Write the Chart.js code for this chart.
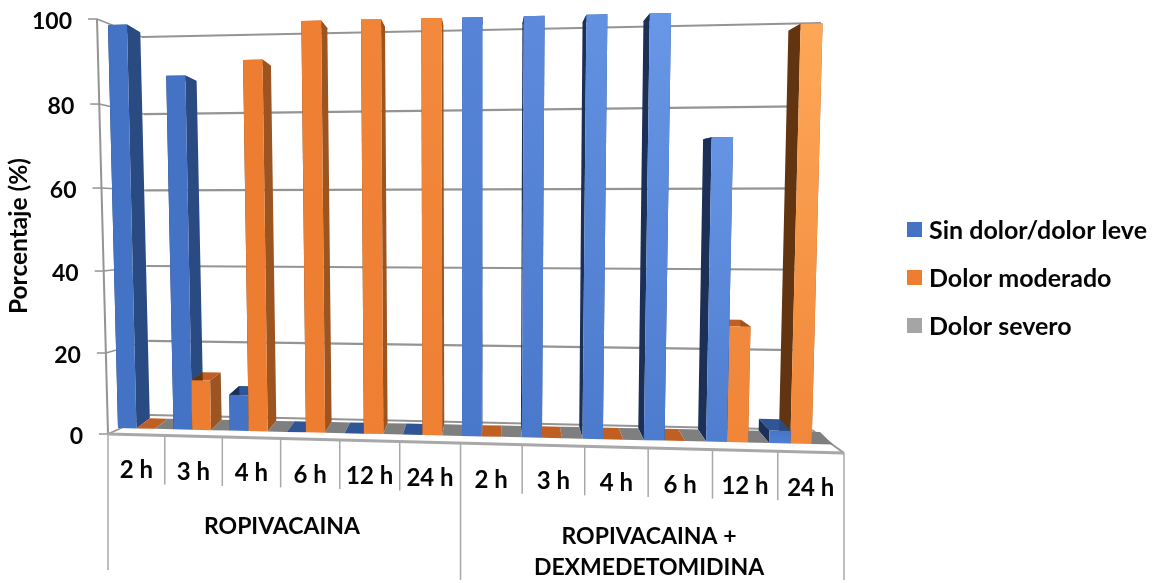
<!DOCTYPE html>
<html>
<head>
<meta charset="utf-8">
<title>Porcentaje de dolor</title>
<script src="https://cdn.jsdelivr.net/npm/chart.js@4"></script>
<style>
    html, body { margin: 0; padding: 0; background: #fff; }
    canvas { display: block; }
</style>
</head>
<body>
<canvas id="chart" width="1155" height="583"></canvas>
<script>
const categories = ["2 h", "3 h", "4 h", "6 h", "12 h", "24 h", "2 h", "3 h", "4 h", "6 h", "12 h", "24 h"];
const sinDolor = [100, 87.5, 9, 0, 0, 0, 100, 100, 100, 100, 71.5, 3];
const dolorModerado = [0, 12.5, 91, 100, 100, 100, 0, 0, 0, 0, 27.5, 97];
const dolorSevero = [0, 0, 0, 0, 0, 0, 0, 0, 0, 0, 0, 0];
const yTicks = [0, 20, 40, 60, 80, 100];

const FONT = "Lato, sans-serif";
const INK = "#050505";
const GRID = "#949494";

// square -> quad homography, u left to right, v bottom to top
function quadMap(tl, tr, br, bl) {
    const dx1 = br[0] - tr[0], dx2 = tl[0] - tr[0], sx = bl[0] - br[0] + tr[0] - tl[0];
    const dy1 = br[1] - tr[1], dy2 = tl[1] - tr[1], sy = bl[1] - br[1] + tr[1] - tl[1];
    const det = dx1 * dy2 - dx2 * dy1;
    const g = (sx * dy2 - dx2 * sy) / det;
    const h = (dx1 * sy - sx * dy1) / det;
    const a = br[0] - bl[0] + g * br[0], b = tl[0] - bl[0] + h * tl[0];
    const d = br[1] - bl[1] + g * br[1], e = tl[1] - bl[1] + h * tl[1];
    return (u, v) => {
        const w = g * u + h * v + 1;
        return [(a * u + b * v + bl[0]) / w, (d * u + e * v + bl[1]) / w];
    };
}

// the four planes of the fake 3D box
const axisPlane = quadMap([97, 19], [857, 1], [844, 453], [108, 434]);
const barFront = quadMap([108, 25], [845, 9.3], [833, 444.5], [118, 428]);
const barBack = quadMap([122, 33], [831, 17], [820, 432], [132, 418]);
const wall = quadMap([142, 37], [821, 23], [812, 430], [150, 415]);

const faceColors = [
    { base: "#4472C4", light: "#7CA9FA", top: "#2F5597", sideL: "#1B2F57", sideR: "#2A4A82" },
    { base: "#ED7D31", light: "#FFAA5A", top: "#C05F22", sideL: "#623410", sideR: "#9C5420" },
    { base: "#A5A5A5", light: "#A5A5A5", top: "#7F7F7F", sideL: "#7F7F7F", sideR: "#7F7F7F" },
];

function mix(c1, c2, t) {
    const p = (c, i) => parseInt(c.substr(1 + i * 2, 2), 16);
    const out = [0, 1, 2].map((i) => Math.round(p(c1, i) + (p(c2, i) - p(c1, i)) * t));
    return `rgb(${out.join(",")})`;
}

function poly(ctx, pts, fill) {
    ctx.beginPath();
    pts.forEach((p, i) => (i ? ctx.lineTo(p[0], p[1]) : ctx.moveTo(p[0], p[1])));
    ctx.closePath();
    ctx.fillStyle = fill;
    ctx.fill();
}

function line(ctx, a, b, color, width) {
    ctx.beginPath();
    ctx.moveTo(a[0], a[1]);
    ctx.lineTo(b[0], b[1]);
    ctx.strokeStyle = color;
    ctx.lineWidth = width;
    ctx.stroke();
}

function drawBox(ctx, chart) {
    const yScale = chart.scales.y;
    const area = chart.chartArea;
    yTicks.forEach((tick) => {
        const v = (area.bottom - yScale.getPixelForValue(tick)) / area.height;
        line(ctx, wall(0, v), wall(1, v), GRID, 2.2);
        line(ctx, axisPlane(0, v), wall(0, v), GRID, 1.5);
        const start = axisPlane(0, v);
        line(ctx, [start[0] - 9, start[1]], start, GRID, 1.5);
        ctx.font = `bold 23px ${FONT}`;
        ctx.fillStyle = INK;
        ctx.textAlign = "right";
        ctx.textBaseline = "middle";
        ctx.fillText(String(tick), start[0] - 25, start[1] + 3);
    });
    line(ctx, axisPlane(0, 1), axisPlane(0, 0), GRID, 2);
    line(ctx, axisPlane(1, 0), wall(1, 0), GRID, 2);
}

function drawBars(ctx, chart) {
    const area = chart.chartArea;
    const bars = [];
    chart.data.datasets.forEach((ds, dsIndex) => {
        chart.getDatasetMeta(dsIndex).data.forEach((el) => {
            const p = el.getProps(["x", "y", "base", "width"], true);
            bars.push({
                colors: faceColors[dsIndex],
                u0: (p.x - p.width / 2 - area.left) / area.width,
                u1: (p.x + p.width / 2 - area.left) / area.width,
                v: (area.bottom - p.y) / area.height,
                v0: (area.bottom - p.base) / area.height,
            });
        });
    });
    // far from the centre first, the nearer bars paint over their side faces
    const centre = 0.52;
    bars.sort((a, b) => Math.abs((b.u0 + b.u1) / 2 - centre) - Math.abs((a.u0 + a.u1) / 2 - centre));

    bars.forEach((b) => {
        const c = b.colors;
        const { u0, u1, v, v0 } = b;
        const f = barFront, k = barBack;
        poly(ctx, [f(u0, v), f(u1, v), k(u1, v), k(u0, v)], c.top);
        if (v > v0) {
            poly(ctx, [f(u0, v), k(u0, v), k(u0, v0), f(u0, v0)], c.sideL);
            poly(ctx, [f(u1, v), k(u1, v), k(u1, v0), f(u1, v0)], c.sideR);
            const t = Math.max(0, (u0 - 0.25) / 0.75);
            const tp = f(u0, v), bt = f(u0, v0);
            const grad = ctx.createLinearGradient(0, tp[1], 0, bt[1]);
            grad.addColorStop(0, mix(c.base, c.light, t * Math.min(1, v * 1.1)));
            grad.addColorStop(1, mix(c.base, c.light, t * 0.25));
            poly(ctx, [f(u0, v), f(u1, v), f(u1, v0), f(u0, v0)], grad);
        }
    });
}

function drawFloorAndLabels(ctx) {
    line(ctx, axisPlane(0, 0), axisPlane(1, 0), "#a8a8a8", 3);
    ctx.font = `bold 24px ${FONT}`;
    ctx.fillStyle = INK;
    ctx.textAlign = "center";
    ctx.textBaseline = "middle";
    const n = categories.length;
    for (let i = 0; i <= n; i++) {
        const p = axisPlane(i / n, 0);
        const long = i % (n / 2) === 0;
        line(ctx, p, [p[0], long ? (i === 0 ? 570 : 580) : p[1] + 49], "#a8a8a8", 1.5);
    }
    categories.forEach((label, i) => {
        const p = axisPlane((i + 0.5) / n, 0);
        ctx.fillText(label, p[0], p[1] + 36);
    });
    ctx.font = `bold 23px ${FONT}`;
    ctx.fillText("ROPIVACAINA", 282, 527);
    ctx.fillText("ROPIVACAINA +", 649, 537);
    ctx.fillText("DEXMEDETOMIDINA", 649, 568);
    ctx.font = `bold 24.5px ${FONT}`;
    ctx.save();
    ctx.translate(19, 236);
    ctx.rotate(-Math.PI / 2);
    ctx.fillText("Porcentaje (%)", 0, 0);
    ctx.restore();
}

function drawLegend(ctx, chart) {
    ctx.font = `bold 25px ${FONT}`;
    ctx.textAlign = "left";
    ctx.textBaseline = "middle";
    chart.data.datasets.forEach((ds, i) => {
        const rowY = 229.5 + i * 48;
        ctx.fillStyle = ds.backgroundColor;
        ctx.fillRect(907, rowY - 7.5, 15, 15);
        ctx.fillStyle = INK;
        ctx.fillText(ds.label, 929, rowY + 1);
    });
}

const box3d = {
    id: "box3d",
    beforeDatasetsDraw(chart) {
        const ctx = chart.ctx;
        ctx.save();
        drawBox(ctx, chart);
        drawBars(ctx, chart);
        drawFloorAndLabels(ctx);
        drawLegend(ctx, chart);
        ctx.restore();
        return false;
    },
};

new Chart(document.getElementById("chart"), {
    type: "bar",
    data: {
        labels: categories,
        datasets: [
            { label: "Sin dolor/dolor leve", data: sinDolor, backgroundColor: "#4472C4" },
            { label: "Dolor moderado", data: dolorModerado, backgroundColor: "#ED7D31" },
            { label: "Dolor severo", data: dolorSevero, backgroundColor: "#A5A5A5" },
        ],
    },
    options: {
        responsive: false,
        animation: false,
        datasets: { bar: { categoryPercentage: 1, barPercentage: 1 } },
        scales: {
            x: { display: false },
            y: { display: false, min: 0, max: 100 },
        },
        plugins: {
            tooltip: { enabled: false },
            legend: { display: false },
        },
    },
    plugins: [box3d],
});
</script>
</body>
</html>
